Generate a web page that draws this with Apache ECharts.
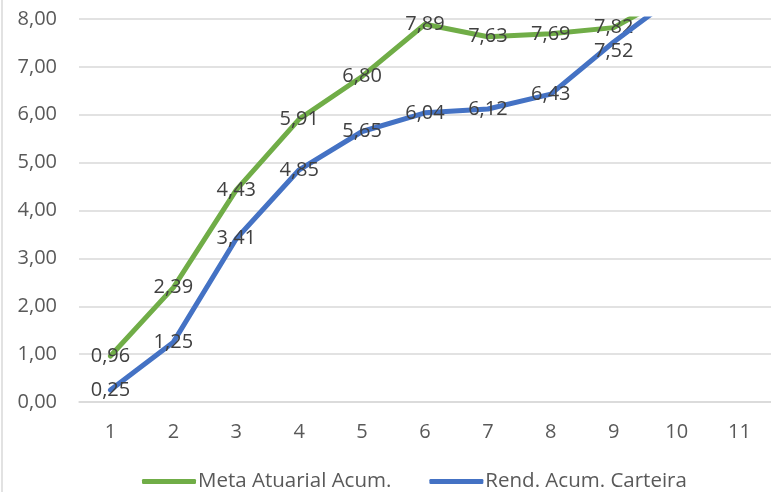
<!DOCTYPE html>
<html>
<head>
<meta charset="utf-8">
<script src="https://cdn.jsdelivr.net/npm/echarts@6/dist/echarts.min.js"></script>
<style>
html,body{margin:0;padding:0;background:#fff;}
#chart{width:771px;height:492px;}
</style>
</head>
<body>
<div id="chart"></div>
<script>
const categories = ['1','2','3','4','5','6','7','8','9','10','11'];
const metaAtuarial = [0.96, 2.39, 4.43, 5.91, 6.80, 7.89, 7.63, 7.69, 7.82, 8.55, null];
const rendCarteira = [0.25, 1.25, 3.41, 4.85, 5.65, 6.04, 6.12, 6.43, 7.52, 8.50, null];
const seriesNames = ['Meta Atuarial Acum.', 'Rend. Acum. Carteira'];
const yMin = 0, yMax = 8, yStep = 1;

const fmt = v => v.toFixed(2).replace('.', ',');
const FONT = 'Open Sans';
const FS = 20;

function makeData(arr, offsets) {
  return arr.map((v, i) => {
    const item = { value: v };
    if (offsets && offsets[i]) item.label = { offset: offsets[i] };
    return item;
  });
}

const labelCfg = {
  show: true,
  position: 'inside',
  color: '#404040',
  fontFamily: FONT,
  fontSize: FS,
  formatter: p => (p.value == null || p.value > yMax) ? '' : fmt(p.value)
};

const chart = echarts.init(document.getElementById('chart'), null, { renderer: 'canvas' });
chart.setOption({
  animation: false,
  backgroundColor: '#fff',
  grid: { left: 79, right: -17, top: 19, bottom: 90, containLabel: false },
  graphic: [{
    type: 'line',
    shape: { x1: 2, y1: 0, x2: 2, y2: 492 },
    style: { stroke: '#d9d9d9', lineWidth: 1.5 }
  }],
  legend: {
    left: 137,
    top: 466,
    itemWidth: 54,
    itemHeight: 5,
    itemGap: 38,
    icon: 'roundRect',
    textStyle: { color: '#595959', fontFamily: FONT, fontSize: 20.5, padding: [0, 0, 0, -3] },
    data: seriesNames
  },
  xAxis: {
    type: 'category',
    data: categories,
    boundaryGap: true,
    axisLine: { show: true, lineStyle: { color: '#d9d9d9', width: 1.5 } },
    axisTick: { show: false },
    axisLabel: { color: '#595959', fontFamily: FONT, fontSize: FS, margin: 20 }
  },
  yAxis: {
    type: 'value',
    min: yMin,
    max: yMax,
    interval: yStep,
    axisLine: { show: false },
    axisTick: { show: false },
    splitLine: { lineStyle: { color: '#d9d9d9', width: 1.5 } },
    axisLabel: { color: '#595959', fontFamily: FONT, fontSize: FS, margin: 22, formatter: v => fmt(v) }
  },
  series: [
    {
      name: seriesNames[0],
      type: 'line',
      data: makeData(metaAtuarial),
      symbol: 'circle',
      symbolSize: 0.1,
      showSymbol: true,
      clip: true,
      color: '#70AD47',
      lineStyle: { color: '#70AD47', width: 5, cap: 'round', join: 'round' },
      itemStyle: { color: '#70AD47' },
      label: labelCfg,
      z: 2
    },
    {
      name: seriesNames[1],
      type: 'line',
      data: makeData(rendCarteira, { 8: [0, 9] }),
      symbol: 'circle',
      symbolSize: 0.1,
      showSymbol: true,
      clip: true,
      color: '#4472C4',
      lineStyle: { color: '#4472C4', width: 5, cap: 'round', join: 'round' },
      itemStyle: { color: '#4472C4' },
      label: labelCfg,
      z: 3
    }
  ]
});
</script>
</body>
</html>
